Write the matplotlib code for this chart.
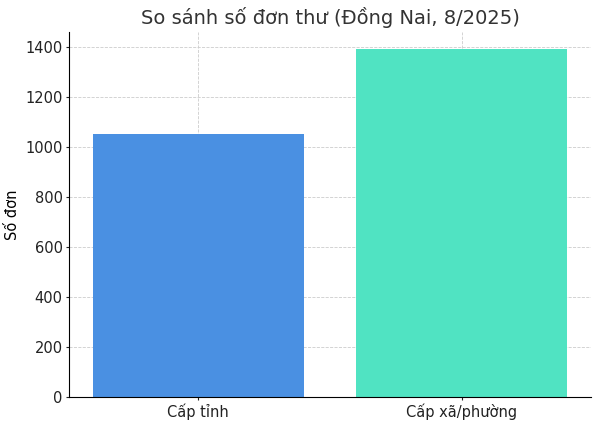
import matplotlib
matplotlib.use("Agg")
import matplotlib.pyplot as plt

# data
categories = ["Cấp tỉnh", "Cấp xã/phường"]
counts = [1052, 1390]
colors = ["#4A90E2", "#50E3C2"]

fig, ax = plt.subplots(figsize=(6, 4.26), dpi=100)

ax.bar(categories, counts, color=colors, width=0.8, zorder=2)

ax.set_title("So sánh số đơn thư (Đồng Nai, 8/2025)", fontsize=14, color="#333333")
ax.set_ylabel("Số đơn", fontsize=10.5, labelpad=4)
ax.tick_params(labelsize=10.5, length=2, pad=2.5, colors="#222222")

ax.grid(True, linestyle="--", linewidth=0.6, color="#cccccc", zorder=0)
ax.spines["top"].set_visible(False)
ax.spines["right"].set_visible(False)

fig.subplots_adjust(left=0.115, right=0.985, bottom=0.068, top=0.925)
fig.savefig("out.png", dpi=100)
